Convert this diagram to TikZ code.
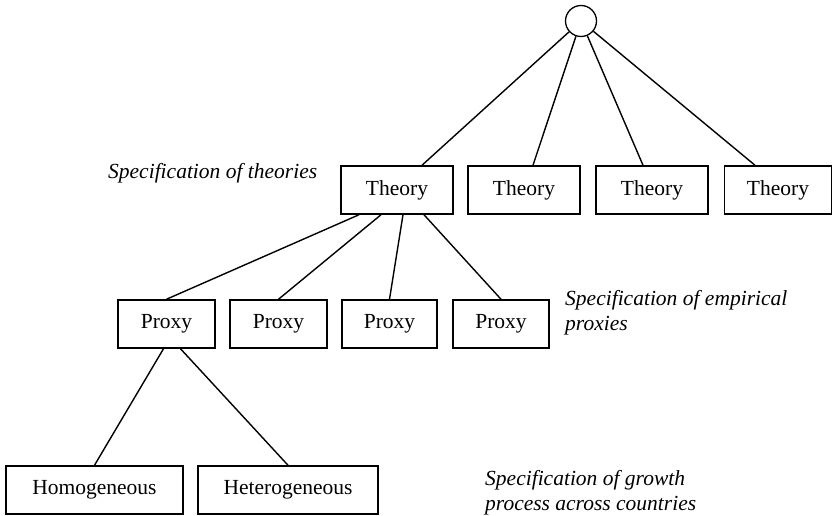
\documentclass[tikz,border=0pt]{standalone}
\usepackage{fontspec}
\setmainfont{Liberation Serif}
\begin{document}
\begin{tikzpicture}[x=1pt,y=-1pt,
  box/.style={draw,line width=1.5pt,inner sep=0pt,minimum height=48pt,font=\fontsize{21.5}{26}\selectfont},
  lbl/.style={inner sep=0pt,align=left,font=\fontsize{21.5}{25}\selectfont\itshape},
  conn/.style={line width=1.4pt}]
\useasboundingbox (0,0) rectangle (833,516);
\node[draw,circle,line width=1.3pt,minimum size=31pt,inner sep=0pt] (c) at (581,21) {};
\node[box,minimum width=112pt] (t1) at (397,190) {Theory};
\node[box,minimum width=112pt] (t2) at (524,190) {Theory};
\node[box,minimum width=112pt] (t3) at (652,190) {Theory};
\node[box,minimum width=107pt] (t4) at (778,190) {Theory};
\node[box,minimum width=97pt] (p1) at (166.5,324) {Proxy};
\node[box,minimum width=97pt] (p2) at (278.5,324) {Proxy};
\node[box,minimum width=95pt] (p3) at (389.5,324) {Proxy};
\node[box,minimum width=96pt] (p4) at (501,324) {Proxy};
\node[box,minimum width=177pt] (h1) at (94.5,490) {Homogeneous};
\node[box,minimum width=180pt] (h2) at (288,490) {Heterogeneous};
\node[lbl,anchor=west] (l1) at (108,173) {Specification of theories};
\node[lbl,anchor=west] (l2) at (565,313) {Specification of empirical\\proxies};
\node[lbl,anchor=west] (l3) at (485,493) {Specification of growth\\process across countries};
\draw[conn] (c) -- ([xshift=25pt]t1.north);
\draw[conn] (c) -- ([xshift=9pt]t2.north);
\draw[conn] (c) -- ([xshift=-9pt]t3.north);
\draw[conn] (c) -- ([xshift=-23pt]t4.north);
\draw[conn] ([xshift=-38pt]t1.south) -- (p1.north);
\draw[conn] ([xshift=-16pt]t1.south) -- (p2.north);
\draw[conn] ([xshift=6pt]t1.south) -- (p3.north);
\draw[conn] ([xshift=27pt]t1.south) -- (p4.north);
\draw[conn] ([xshift=-3pt]p1.south) -- (h1.north);
\draw[conn] ([xshift=14pt]p1.south) -- (h2.north);
\end{tikzpicture}
\end{document}
